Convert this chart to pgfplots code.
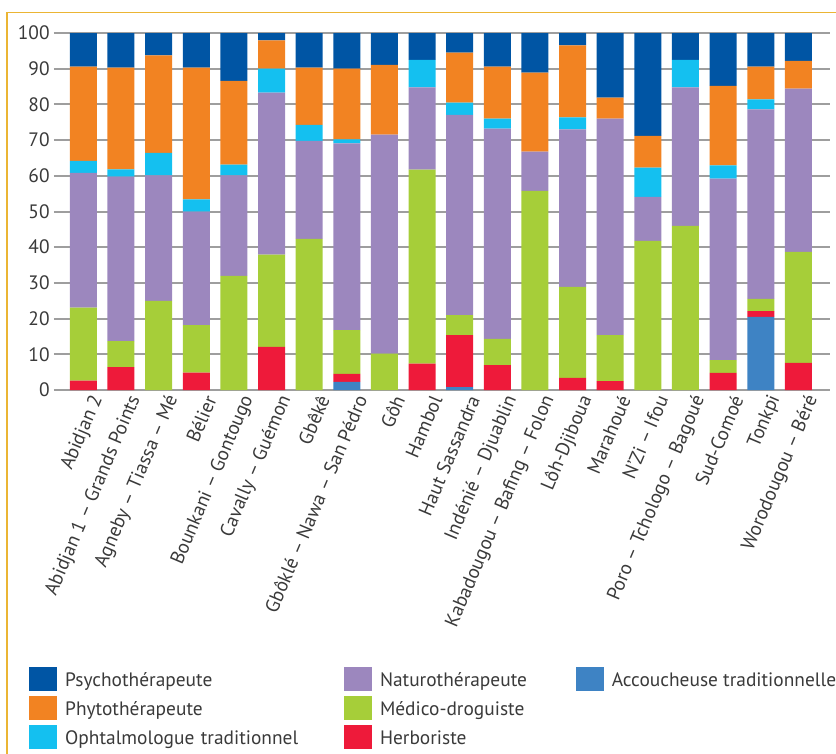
\documentclass[border=0pt]{standalone}
\usepackage{pgfplots}
\pgfplotsset{compat=1.18}
\usepackage{pgfplotstable}
\usepackage{fontspec}
\setmainfont{PT Sans}

\definecolor{cpsy}{HTML}{0055A4}
\definecolor{cphy}{HTML}{F28322}
\definecolor{coph}{HTML}{14C0F0}
\definecolor{cnat}{HTML}{9C87BE}
\definecolor{cmed}{HTML}{A6CE39}
\definecolor{cher}{HTML}{EE1A3A}
\definecolor{cacc}{HTML}{3E83C4}
\definecolor{frameyellow}{HTML}{EBB534}
\definecolor{txt}{HTML}{3A3A3A}

% share of each kind of practitioner per region, bottom to top
\pgfplotstableread{
x  acc  herb med  nat  oph phy  psy
0  0    2.6  20.5 37.7 3.4 26.4 9.4
1  0    6.4  7.3  46.1 2.0 28.5 9.7
2  0    0    25.0 35.1 6.3 27.3 6.3
3  0    4.9  13.3 31.8 3.4 36.9 9.7
4  0    0    32.0 28.1 3.0 23.5 13.4
5  0    12.1 25.8 45.4 6.7 7.9  2.1
6  0    0    42.3 27.5 4.5 16.0 9.7
7  2.3  2.2  12.3 52.3 1.1 19.8 10.0
8  0    0    10.2 61.3 0   19.6 8.9
9  0    7.4  54.3 23.1 7.7 0    7.5
10 0.8  14.6 5.6  56.1 3.4 14.0 5.5
11 0    7.0  7.3  58.9 2.8 14.6 9.4
12 0    0    55.8 11.0 0   22.1 11.1
13 0    3.4  25.5 44.1 3.4 20.1 3.5
14 0    2.5  12.9 60.6 0   5.9  18.1
15 0    0    41.8 12.3 8.2 8.9  28.8
16 0    0    46.0 38.8 7.7 0    7.5
17 0    4.8  3.6  50.8 3.7 22.3 14.8
18 20.5 1.6  3.4  53.1 2.8 9.2  9.4
19 0    7.6  31.1 45.7 0   7.8  7.8
}\datatable

\begin{document}
\fontsize{9.7}{11.6}\selectfont
\begin{tikzpicture}
\useasboundingbox (0,0) rectangle (418pt,-377pt);
\draw[frameyellow, line width=0.8pt] (3.4pt,-377pt) -- (3.4pt,-6.3pt) -- (418pt,-6.3pt);
\begin{axis}[
  at={(27pt,-195pt)}, anchor=south west,
  scale only axis, width=388pt, height=178.5pt,
  ybar stacked, bar width=13.5pt,
  xmin=-0.78, xmax=19.84, ymin=0, ymax=100,
  xtick={0,...,19},
  xticklabels={Abidjan 2, Abidjan 1 – Grands Points, Agneby – Tiassa – Mé, Bélier,
    Bounkani – Gontougo, Cavally – Guémon, Gbêkê, Gbôklé – Nawa – San Pédro, Gôh,
    Hambol, Haut Sassandra, Indénié – Djuablin, Kabadougou – Bafing – Folon,
    Lôh-Djiboua, Marahoué, N’Zi – Ifou, Poro – Tchologo – Bagoué, Sud-Comoé,
    Tonkpi, Worodougou – Béré},
  xticklabel style={rotate=67, anchor=east, inner sep=0pt, yshift=-8pt, xshift=0pt},
  ytick={0,10,...,100},
  yticklabel style={inner sep=0pt, xshift=-2pt},
  /pgf/number format/assume math mode=true,
  ticklabel style={font=\fontsize{9.7}{11.6}\selectfont, text=txt},
  major tick length=0pt, tick style={draw=none},
  axis line style={draw=none},
  ymajorgrids, major grid style={color=black!38, line width=1pt},
  legend columns=3,
  legend style={at={(-0.0322,-0.776)}, anchor=north west, draw=none, fill=none,
    inner sep=0pt, column sep=4pt, row sep=2.5pt,
    font=\fontsize{9.7}{11.6}\selectfont, text=txt,
    nodes={inner sep=0pt}},
  legend cell align=left,
  legend image code/.code={\fill[#1] (0pt,-4.75pt) rectangle (13.5pt,6.75pt);},
]
\addplot[fill=cacc, draw=none, forget plot] table[x=x, y=acc] {\datatable};
\addplot[fill=cher, draw=none, forget plot] table[x=x, y=herb] {\datatable};
\addplot[fill=cmed, draw=none, forget plot] table[x=x, y=med] {\datatable};
\addplot[fill=cnat, draw=none, forget plot] table[x=x, y=nat] {\datatable};
\addplot[fill=coph, draw=none, forget plot] table[x=x, y=oph] {\datatable};
\addplot[fill=cphy, draw=none, forget plot] table[x=x, y=phy] {\datatable};
\addplot[fill=cpsy, draw=none, forget plot] table[x=x, y=psy] {\datatable};

% legend, row by row
\addlegendimage{cpsy}\addlegendentry[text width=135.5pt]{Psychothérapeute}
\addlegendimage{cnat}\addlegendentry[text width=94pt]{Naturothérapeute}
\addlegendimage{cacc}\addlegendentry{Accoucheuse traditionnelle}
\addlegendimage{cphy}\addlegendentry[text width=135.5pt]{Phytothérapeute}
\addlegendimage{cmed}\addlegendentry[text width=94pt]{Médico-droguiste}
\addlegendimage{empty legend}\addlegendentry{}
\addlegendimage{coph}\addlegendentry[text width=135.5pt]{Ophtalmologue traditionnel}
\addlegendimage{cher}\addlegendentry[text width=94pt]{Herboriste}
\end{axis}
\end{tikzpicture}
\end{document}
